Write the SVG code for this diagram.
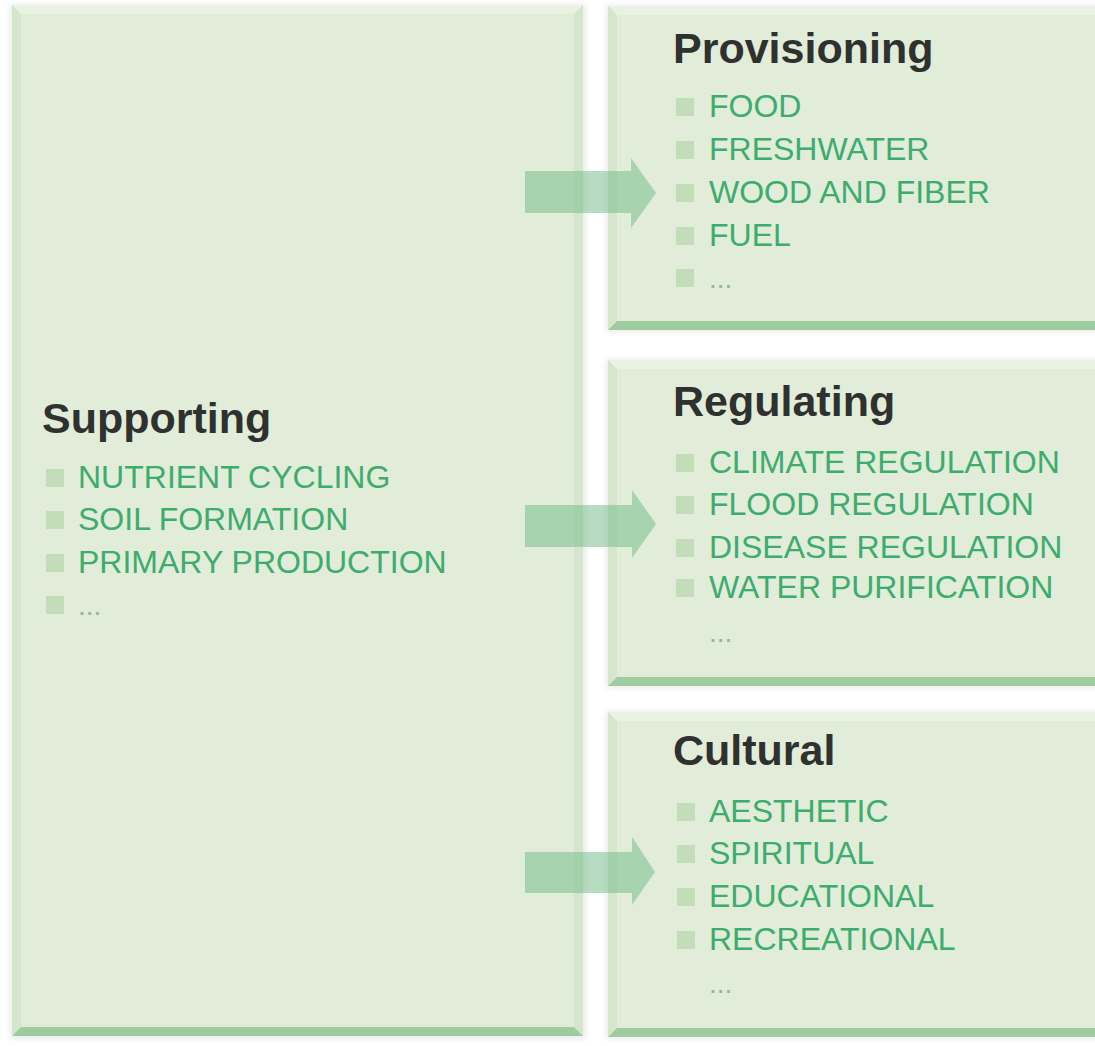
<svg xmlns="http://www.w3.org/2000/svg" width="1095" height="1046" viewBox="0 0 1095 1046">
  <defs>
    <style>
      .face { fill: #e1ecd9; }
      .side { fill: #d5e6cc; }
      .top { fill: #eaf2e4; }
      .base { fill: #9fcc9f; }
      .head { font-family: "Liberation Sans", Arial, sans-serif; font-weight: bold; font-size: 43px; fill: #2f312f; }
      .item { font-family: "Liberation Sans", Arial, sans-serif; font-size: 32px; fill: #3dac6d; }
      .more { font-family: "Liberation Sans", Arial, sans-serif; font-size: 28px; fill: #92b897; }
      .bullet { fill: #c3ddb9; }
      .arrow { fill: #6db985; opacity: 0.5; }
    </style>
    <filter id="shadow" x="-5%" y="-5%" width="110%" height="110%">
      <feGaussianBlur stdDeviation="3"/>
    </filter>
  </defs>

  <rect width="1095" height="1046" fill="#ffffff"/>

  <!-- Supporting (left column) -->
  <g id="supporting">
    <rect x="10" y="4" width="576" height="1035" fill="#000" opacity="0.08" filter="url(#shadow)"/>
    <rect class="face" x="12" y="5" width="571" height="1031"/>
    <polygon class="top" points="12,5 583,5 574,14 21,14"/>
    <polygon class="side" points="12,5 21,14 21,1027 12,1036"/>
    <polygon class="side" points="583,5 574,14 574,1027 583,1036"/>
    <polygon class="base" points="12,1036 21,1027 574,1027 583,1036"/>
    <text class="head" x="42" y="433">Supporting</text>
    <rect class="bullet" x="46" y="469" width="18" height="18"/>
    <text class="item" x="78" y="488">NUTRIENT CYCLING</text>
    <rect class="bullet" x="46" y="511" width="18" height="18"/>
    <text class="item" x="78" y="530">SOIL FORMATION</text>
    <rect class="bullet" x="46" y="554" width="18" height="18"/>
    <text class="item" x="78" y="573">PRIMARY PRODUCTION</text>
    <rect class="bullet" x="46" y="596" width="18" height="18"/>
    <text class="more" x="78" y="615">...</text>
  </g>

  <!-- Provisioning -->
  <g id="provisioning">
    <rect x="606" y="5" width="500" height="327" fill="#000" opacity="0.08" filter="url(#shadow)"/>
    <rect class="face" x="608" y="6" width="500" height="324"/>
    <polygon class="top" points="608,6 1108,6 1099,15 617,15"/>
    <polygon class="side" points="608,6 617,15 617,321 608,330"/>
    <polygon class="base" points="608,330 617,321 1108,321 1108,330"/>
    <text class="head" x="673" y="63">Provisioning</text>
    <rect class="bullet" x="676" y="98" width="18" height="18"/>
    <text class="item" x="709" y="117">FOOD</text>
    <rect class="bullet" x="676" y="141" width="18" height="18"/>
    <text class="item" x="709" y="160">FRESHWATER</text>
    <rect class="bullet" x="676" y="184" width="18" height="18"/>
    <text class="item" x="709" y="203">WOOD AND FIBER</text>
    <rect class="bullet" x="676" y="227" width="18" height="18"/>
    <text class="item" x="709" y="246">FUEL</text>
    <rect class="bullet" x="676" y="269" width="18" height="18"/>
    <text class="more" x="709" y="288">...</text>
  </g>

  <!-- Regulating -->
  <g id="regulating">
    <rect x="606" y="359" width="500" height="329" fill="#000" opacity="0.08" filter="url(#shadow)"/>
    <rect class="face" x="608" y="360" width="500" height="326"/>
    <polygon class="top" points="608,360 1108,360 1099,369 617,369"/>
    <polygon class="side" points="608,360 617,369 617,677 608,686"/>
    <polygon class="base" points="608,686 617,677 1108,677 1108,686"/>
    <text class="head" x="673" y="416">Regulating</text>
    <rect class="bullet" x="676" y="454" width="18" height="18"/>
    <text class="item" x="709" y="473">CLIMATE REGULATION</text>
    <rect class="bullet" x="676" y="496" width="18" height="18"/>
    <text class="item" x="709" y="515">FLOOD REGULATION</text>
    <rect class="bullet" x="676" y="539" width="18" height="18"/>
    <text class="item" x="709" y="558">DISEASE REGULATION</text>
    <rect class="bullet" x="676" y="579" width="18" height="18"/>
    <text class="item" x="709" y="598">WATER PURIFICATION</text>
    <text class="more" x="709" y="642">...</text>
  </g>

  <!-- Cultural -->
  <g id="cultural">
    <rect x="606" y="711" width="500" height="328" fill="#000" opacity="0.08" filter="url(#shadow)"/>
    <rect class="face" x="608" y="712" width="500" height="325"/>
    <polygon class="top" points="608,712 1108,712 1099,721 617,721"/>
    <polygon class="side" points="608,712 617,721 617,1028 608,1037"/>
    <polygon class="base" points="608,1037 617,1028 1108,1028 1108,1037"/>
    <text class="head" x="673" y="765">Cultural</text>
    <rect class="bullet" x="677" y="803" width="18" height="18"/>
    <text class="item" x="709" y="822">AESTHETIC</text>
    <rect class="bullet" x="677" y="845" width="18" height="18"/>
    <text class="item" x="709" y="864">SPIRITUAL</text>
    <rect class="bullet" x="677" y="888" width="18" height="18"/>
    <text class="item" x="709" y="907">EDUCATIONAL</text>
    <rect class="bullet" x="677" y="931" width="18" height="18"/>
    <text class="item" x="709" y="950">RECREATIONAL</text>
    <text class="more" x="709" y="993">...</text>
  </g>

  <!-- Block arrows from Supporting to each service group -->
  <g id="connectors">
    <polygon class="arrow" points="525,171 631,171 631,158 656,193 631,228 631,213 525,213"/>
    <polygon class="arrow" points="525,505 632,505 632,490 656,524 632,558 632,547 525,547"/>
    <polygon class="arrow" points="525,852 632,852 632,837 655,872 632,905 632,893 525,893"/>
  </g>
</svg>
